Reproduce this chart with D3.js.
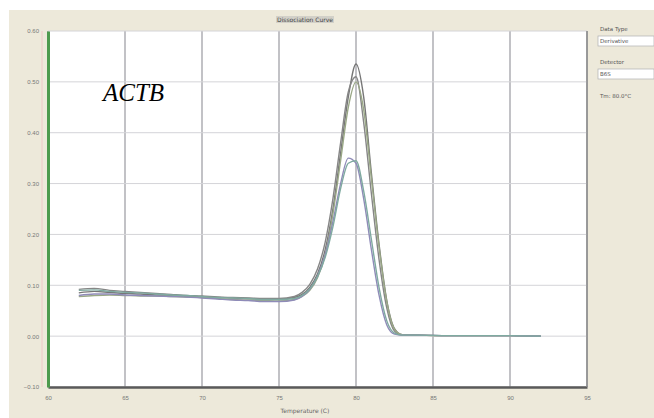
<!DOCTYPE html>
<html>
<head>
<meta charset="utf-8">
<script src="https://cdn.jsdelivr.net/npm/d3@7"></script>
<style>
  body { margin: 0; background: #fff; }
  svg { display: block; font-family: "DejaVu Sans", sans-serif; }
</style>
</head>
<body>
<svg width="654" height="418"></svg>
<script>
// temperatures (C) shared by all wells
var temps = [62, 63, 64, 65, 66, 67, 68, 69, 70, 71, 72, 73, 74, 75, 76, 76.5, 77, 77.5, 78, 78.5, 79, 79.5, 80, 80.5, 81, 81.5, 82, 82.5, 83, 84, 86, 88, 90, 92];

// derivative values, one list per well
var wellA = [0.085, 0.088, 0.086, 0.084, 0.083, 0.081, 0.080, 0.078, 0.077, 0.076, 0.075, 0.074, 0.073, 0.073, 0.076, 0.082, 0.096, 0.122, 0.170, 0.250, 0.360, 0.470, 0.535, 0.470, 0.320, 0.180, 0.070, 0.015, 0.003, 0.002, 0.001, 0.001, 0.001, 0.000];
var wellB = [0.092, 0.094, 0.090, 0.088, 0.086, 0.084, 0.082, 0.080, 0.079, 0.077, 0.076, 0.075, 0.074, 0.074, 0.078, 0.086, 0.102, 0.132, 0.185, 0.270, 0.380, 0.480, 0.510, 0.420, 0.280, 0.150, 0.055, 0.010, 0.002, 0.002, 0.001, 0.001, 0.001, 0.000];
var wellC = [0.078, 0.080, 0.081, 0.080, 0.079, 0.079, 0.078, 0.077, 0.076, 0.074, 0.072, 0.071, 0.070, 0.069, 0.072, 0.078, 0.090, 0.115, 0.160, 0.240, 0.345, 0.450, 0.500, 0.445, 0.310, 0.175, 0.068, 0.014, 0.003, 0.002, 0.001, 0.001, 0.001, 0.000];
var wellD = [0.080, 0.083, 0.083, 0.081, 0.080, 0.079, 0.078, 0.077, 0.075, 0.073, 0.071, 0.070, 0.068, 0.068, 0.071, 0.078, 0.092, 0.118, 0.160, 0.225, 0.300, 0.350, 0.340, 0.270, 0.170, 0.080, 0.022, 0.004, 0.002, 0.002, 0.001, 0.001, 0.001, 0.000];
var wellE = [0.090, 0.091, 0.088, 0.086, 0.085, 0.083, 0.081, 0.080, 0.078, 0.076, 0.075, 0.074, 0.072, 0.072, 0.074, 0.080, 0.093, 0.117, 0.155, 0.215, 0.290, 0.340, 0.345, 0.285, 0.190, 0.095, 0.030, 0.006, 0.002, 0.002, 0.001, 0.001, 0.001, 0.000];

var wells = [wellA, wellB, wellC, wellD, wellE];
var wellColors = ["#767676", "#868686", "#9aa886", "#8f8bb8", "#7faaa0"];

var xTicks = [60, 65, 70, 75, 80, 85, 90, 95];
var yTicks = [-0.10, 0.00, 0.10, 0.20, 0.30, 0.40, 0.50, 0.60];

var svg = d3.select("svg"),
    width = +svg.attr("width"),
    height = +svg.attr("height");

var margin = {left: 48, right: 67, top: 31, bottom: 31};
var pw = width - margin.left - margin.right,
    ph = height - margin.top - margin.bottom;

// window background
svg.append("rect").attr("x", 9).attr("y", 10).attr("width", width - 9).attr("height", height - 10)
   .attr("fill", "#ede9da");

var g = svg.append("g").attr("transform", "translate(" + margin.left + "," + margin.top + ")");

var x = d3.scaleLinear().domain([60, 95]).range([0, pw]);
var y = d3.scaleLinear().domain([-0.10, 0.60]).range([ph, 0]);

g.append("rect").attr("width", pw).attr("height", ph).attr("fill", "#fff");

// grid
g.selectAll(".vgrid").data(xTicks).enter().append("line")
   .attr("x1", function(d) { return x(d); }).attr("x2", function(d) { return x(d); })
   .attr("y1", 0).attr("y2", ph)
   .attr("stroke", "#a8a8ae").attr("stroke-width", 1.4);
g.selectAll(".hgrid").data(yTicks).enter().append("line")
   .attr("x1", 0).attr("x2", pw)
   .attr("y1", function(d) { return y(d); }).attr("y2", function(d) { return y(d); })
   .attr("stroke", "#d4d4d8").attr("stroke-width", 1);

// axes
var xAxis = g.append("g").attr("transform", "translate(0," + ph + ")")
   .call(d3.axisBottom(x).tickValues(xTicks).tickSize(0).tickPadding(9).tickFormat(d3.format("d")));
xAxis.select(".domain").attr("stroke", "#5a5a5a").attr("stroke-width", 2.5);
xAxis.selectAll("text").attr("fill", "#777").attr("font-size", 6);

var yAxis = g.append("g")
   .call(d3.axisLeft(y).tickValues(yTicks).tickSize(0).tickPadding(9).tickFormat(d3.format(".2f")));
yAxis.select(".domain").attr("stroke", "#4e9a4e").attr("stroke-width", 3);
yAxis.selectAll("text").attr("fill", "#777").attr("font-size", 6);

g.append("line").attr("x1", pw).attr("x2", pw).attr("y1", 0).attr("y2", ph)
   .attr("stroke", "#8c8c8c").attr("stroke-width", 1.5);
g.append("line").attr("x1", -6).attr("x2", -6).attr("y1", 0).attr("y2", ph)
   .attr("stroke", "#f0c8c8").attr("stroke-width", 1);

// curves
var line = d3.line()
   .x(function(d, i) { return x(temps[i]); })
   .y(function(d) { return y(d); })
   .curve(d3.curveMonotoneX);

g.selectAll(".well").data(wells).enter().append("path")
   .attr("d", line)
   .attr("fill", "none")
   .attr("stroke", function(d, i) { return wellColors[i]; })
   .attr("stroke-width", 1.4);

// gene label
g.append("text").attr("x", 55).attr("y", 70)
   .attr("font-family", "Liberation Serif, serif").attr("font-style", "italic")
   .attr("font-size", 25).attr("fill", "#000").text("ACTB");

// titles
svg.append("rect").attr("x", 276).attr("y", 16).attr("width", 58).attr("height", 7).attr("fill", "#d2d0c8");
svg.append("text").attr("x", 305).attr("y", 22).attr("text-anchor", "middle")
   .attr("font-size", 6).attr("fill", "#444").text("Dissociation Curve");
svg.append("text").attr("x", 305).attr("y", 413).attr("text-anchor", "middle")
   .attr("font-size", 6).attr("fill", "#666").text("Temperature (C)");

// side panel
var side = svg.append("g").attr("transform", "translate(598,0)");
side.append("text").attr("x", 2).attr("y", 31).attr("font-size", 5.5).attr("fill", "#555").text("Data Type");
side.append("rect").attr("x", 0).attr("y", 36).attr("width", 56).attr("height", 10)
   .attr("fill", "#fff").attr("stroke", "#b8b8b8").attr("stroke-width", 0.8);
side.append("text").attr("x", 2).attr("y", 43).attr("font-size", 5.5).attr("fill", "#555").text("Derivative");
side.append("text").attr("x", 2).attr("y", 64).attr("font-size", 5.5).attr("fill", "#555").text("Detector");
side.append("rect").attr("x", 0).attr("y", 69).attr("width", 56).attr("height", 10)
   .attr("fill", "#fff").attr("stroke", "#b8b8b8").attr("stroke-width", 0.8);
side.append("text").attr("x", 2).attr("y", 76).attr("font-size", 5.5).attr("fill", "#555").text("B6S");
side.append("text").attr("x", 2).attr("y", 98).attr("font-size", 5.5).attr("fill", "#555").text("Tm: 80.0°C");
</script>
</body>
</html>
